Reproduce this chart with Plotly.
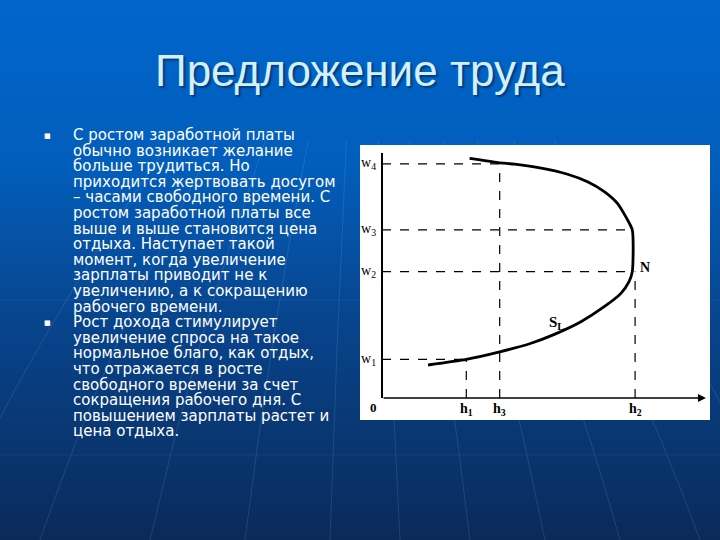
import plotly.graph_objects as go

# --- данные ---------------------------------------------------------------
title_text = "Предложение труда"

bullet_1 = [
    "С ростом заработной платы",
    "обычно возникает желание",
    "больше трудиться. Но",
    "приходится жертвовать досугом",
    "– часами свободного времени. С",
    "ростом заработной платы все",
    "выше и выше становится цена",
    "отдыха. Наступает такой",
    "момент, когда увеличение",
    "зарплаты приводит не к",
    "увеличению, а к сокращению",
    "рабочего времени.",
]
bullet_2 = [
    "Рост дохода стимулирует",
    "увеличение спроса на такое",
    "нормальное благо, как отдых,",
    "что отражается в росте",
    "свободного времени за счет",
    "сокращения рабочего дня. С",
    "повышением зарплаты растет и",
    "цена отдыха.",
]

# кривая предложения труда S_L (часы, ставка)
hours = [1.82, 3.33, 4.65, 5.89, 6.81, 7.86, 8.78, 9.44, 9.76, 9.89,
         9.89, 9.63, 9.30, 8.78, 8.12, 7.33, 6.29, 5.24, 4.58, 3.46]
wage = [1.41, 1.65, 1.97, 2.34, 2.72, 3.26, 3.90, 4.47, 4.97, 5.40,
        7.18, 7.75, 8.32, 8.82, 9.24, 9.56, 9.82, 9.99, 10.06, 10.24]

w_names = ["w<sub>1</sub>", "w<sub>2</sub>", "w<sub>3</sub>", "w<sub>4</sub>"]
w_vals = [1.65, 5.40, 7.18, 10.0]
h_names = ["h<sub>1</sub>", "h<sub>3</sub>", "h<sub>2</sub>"]
h_vals = [3.33, 4.65, 10.0]
# до какой точки доходят пунктирные линии
w_ends = [3.33, 9.89, 9.89, 4.65]
h_ends = [1.65, 10.0, 5.40]

x_range = [-0.87, 12.96]
y_range = [-0.94, 10.81]

# --- фигура ---------------------------------------------------------------
fig = go.Figure()

def lerp(c1, c2, t):
    return tuple(round(a + (b - a) * t) for a, b in zip(c1, c2))

# фон: вертикальный градиент полосами
stops = [(0.0, (0, 102, 204)), (0.3, (2, 94, 188)),
         (0.6, (8, 68, 140)), (1.0, (10, 42, 90))]
shapes = []
n = 90
for i in range(n):
    t = (i + 0.5) / n
    for (t0, c0), (t1, c1) in zip(stops[:-1], stops[1:]):
        if t0 <= t <= t1:
            c = lerp(c0, c1, (t - t0) / (t1 - t0))
            break
    shapes.append(dict(type="rect", xref="paper", yref="paper",
                       x0=0, x1=1, y0=1 - (i + 1) / n - 0.002, y1=1 - i / n,
                       fillcolor="rgb(%d,%d,%d)" % c, line_width=0, layer="below"))

# бледные декоративные линии фона
for xb in [-60, 40, 150, 245, 330, 400, 470, 545, 620, 700, 790]:
    xt = 360 + (xb - 360) * 0.45
    shapes.append(dict(type="path", xref="paper", yref="paper", layer="below",
                       path="M %f,%f Q %f,%f %f,%f" % (
                           xt / 720, 1 - 140 / 540,
                           (xt + xb) / 2 / 720 + (xb - 360) / 720 * 0.06, 1 - 340 / 540,
                           xb / 720, 0),
                       line=dict(color="rgba(140,190,240,0.16)", width=1)))
for yl in [300, 455]:
    shapes.append(dict(type="line", xref="paper", yref="paper", layer="below",
                       x0=0, x1=1, y0=1 - yl / 540, y1=1 - yl / 540,
                       line=dict(color="rgba(140,190,240,0.10)", width=1)))

# белая подложка рисунка
shapes.append(dict(type="rect", xref="paper", yref="paper",
                   x0=360 / 720, x1=710 / 720, y0=1 - 420 / 540, y1=1 - 145 / 540,
                   fillcolor="white", line_width=0, layer="below"))

# пунктирные линии
for w, e in zip(w_vals, w_ends):
    fig.add_trace(go.Scatter(x=[0, e], y=[w, w], mode="lines",
                             line=dict(color="black", width=1.2, dash="dash"),
                             showlegend=False, hoverinfo="skip"))
for h, e in zip(h_vals, h_ends):
    fig.add_trace(go.Scatter(x=[h, h], y=[0, e], mode="lines",
                             line=dict(color="black", width=1.2, dash="dash"),
                             showlegend=False, hoverinfo="skip"))

# ось ставки
fig.add_trace(go.Scatter(x=[0, 0], y=[0, 10.47], mode="lines",
                         line=dict(color="black", width=2),
                         showlegend=False, hoverinfo="skip"))

# кривая
fig.add_trace(go.Scatter(x=hours, y=wage, mode="lines",
                         line=dict(color="black", width=2.8, shape="spline", smoothing=0.6),
                         showlegend=False))

annotations = []
# ось часов со стрелкой
annotations.append(dict(x=12.8, y=0, ax=0, ay=0, xref="x", yref="y", axref="x", ayref="y",
                        showarrow=True, arrowhead=2, arrowsize=1, arrowwidth=1.6,
                        arrowcolor="black", text=""))

serif = "Liberation Serif"
for name, w in zip(w_names, w_vals):
    annotations.append(dict(x=-0.55, y=w, xref="x", yref="y", text=name, showarrow=False,
                            font=dict(family=serif, size=14, color="black")))
for name, h in zip(h_names, h_vals):
    annotations.append(dict(x=h, y=-0.47, xref="x", yref="y", text="<b>" + name + "</b>",
                            showarrow=False, font=dict(family=serif, size=14, color="black")))
annotations.append(dict(x=-0.35, y=-0.4, xref="x", yref="y", text="<b>0</b>", showarrow=False,
                        font=dict(family=serif, size=13, color="black")))
annotations.append(dict(x=10.4, y=5.56, xref="x", yref="y", text="<b>N</b>", showarrow=False,
                        font=dict(family=serif, size=14, color="black")))
annotations.append(dict(x=6.9, y=3.2, xref="x", yref="y", text="<b>S<sub>L</sub></b>",
                        showarrow=False, font=dict(family=serif, size=15, color="black")))

# заголовок
annotations.append(dict(x=0.5, y=1 - 70 / 540, xref="paper", yref="paper", text=title_text,
                        xanchor="center", yanchor="middle", showarrow=False,
                        font=dict(family="Liberation Sans", size=44, color="#d2f0ff",
                                  shadow="2px 2px 2px #063a78")))

# текст слева
text_font = dict(family="DejaVu Sans", size=15, color="white")
lines = bullet_1 + bullet_2
for i, line in enumerate(lines):
    yc = 135 + i * 15.6
    annotations.append(dict(x=71 / 720, y=1 - yc / 540, xref="paper", yref="paper",
                            xanchor="left", yanchor="middle", text=line, showarrow=False,
                            font=text_font))
for i in [0, len(bullet_1)]:
    yc = 136 + i * 15.6
    annotations.append(dict(x=47 / 720, y=1 - yc / 540, xref="paper", yref="paper",
                            xanchor="center", yanchor="middle", text="■", showarrow=False,
                            font=dict(family="DejaVu Sans", size=7, color="white")))

fig.update_layout(
    width=720, height=540,
    margin=dict(l=0, r=0, t=0, b=0),
    paper_bgcolor="#0a3a78",
    plot_bgcolor="rgba(0,0,0,0)",
    shapes=shapes,
    annotations=annotations,
    showlegend=False,
    xaxis=dict(domain=[360 / 720, 710 / 720], range=x_range, visible=False, fixedrange=True),
    yaxis=dict(domain=[1 - 420 / 540, 1 - 145 / 540], range=y_range, visible=False, fixedrange=True),
)

fig.write_html("out.html", config={"displayModeBar": False},
               post_script="document.body.style.margin='0';")
